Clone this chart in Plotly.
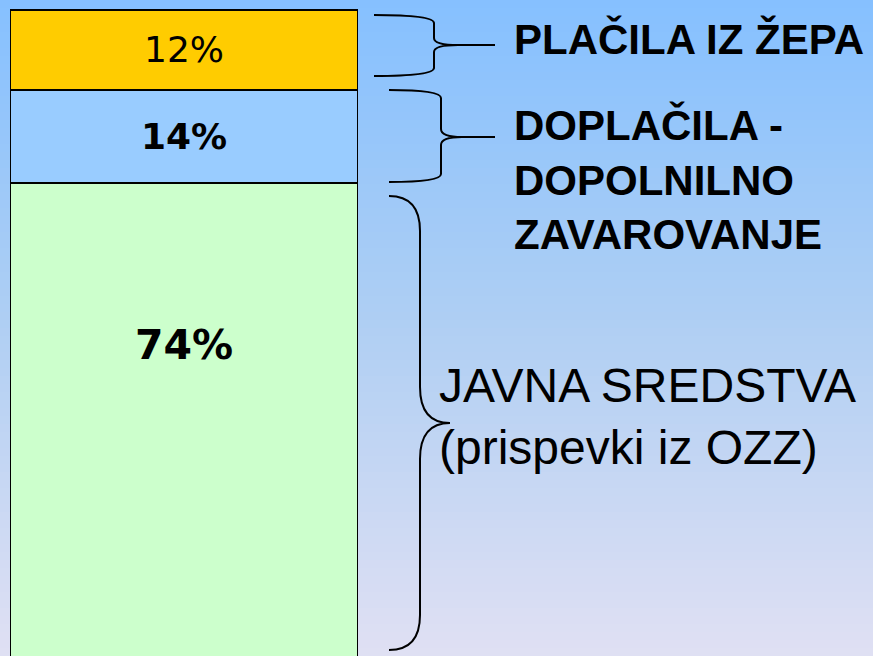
import plotly.graph_objects as go

# ---- data ----
categories = ["PLAČILA IZ ŽEPA", "DOPLAČILA - DOPOLNILNO ZAVAROVANJE", "JAVNA SREDSTVA (prispevki iz OZZ)"]
shares = [12, 14, 74]
share_labels = ["12%", "14%", "74%"]
side_labels = [
    "<b>PLAČILA IZ ŽEPA</b>",
    "<b>DOPLAČILA -<br>DOPOLNILNO<br>ZAVAROVANJE</b>",
    "JAVNA SREDSTVA<br>(prispevki iz OZZ)",
]
bar_colors = ["#FFCC00", "#99CCFF", "#CCFFCC"]

W, H = 873, 656
SCALE = 6.65          # pixels per percent
TOP = 10              # pixel of 0 %

fig = go.Figure()

label_fonts = [
    dict(family="DejaVu Sans", size=36, color="black"),
    dict(family="DejaVu Sans", size=36, color="black", weight="bold"),
    dict(family="DejaVu Sans", size=41, color="black", weight="bold"),
]

for i, (cat, v) in enumerate(zip(categories, shares)):
    inside = i < 2
    fig.add_trace(go.Bar(
        x=[0], y=[v], width=1, name=cat,
        marker=dict(color=bar_colors[i], line=dict(color="black", width=2.5)),
        text=[share_labels[i]] if inside else None,
        textposition="inside" if inside else "none",
        insidetextanchor="middle",
        textangle=0,
        textfont=label_fonts[i],
        hoverinfo="skip",
    ))

# label for the large segment, placed in its upper part
base_last = sum(shares[:2])
fig.add_annotation(x=0, y=base_last + shares[2] * 0.33, xref="x", yref="y",
                   text=share_labels[2], showarrow=False, font=label_fonts[2])

# ---- background gradient (top blue -> bottom lavender) ----
stops = [(0.0, (133, 192, 255)), (0.5, (176, 207, 243)), (1.0, (224, 224, 243))]
def grad(t):
    for (t0, c0), (t1, c1) in zip(stops[:-1], stops[1:]):
        if t <= t1:
            f = (t - t0) / (t1 - t0)
            return "rgb(%d,%d,%d)" % tuple(round(a + (b - a) * f) for a, b in zip(c0, c1))
    return "rgb(%d,%d,%d)" % stops[-1][1]

shapes = []
N = 82
for k in range(N):
    y0 = 1 - k / N
    y1 = 1 - (k + 1) / N
    shapes.append(dict(type="rect", xref="paper", yref="paper", x0=0, x1=1,
                       y0=y1 - 0.002, y1=y0, fillcolor=grad((k + 0.5) / N),
                       line=dict(width=0), layer="below"))

# ---- curly braces (pixel coordinates -> paper) ----
def X(px):
    return px / W
def Y(py):
    return 1 - py / H

def brace(x0, ytop, ybot, xs, ym, xt, r, r2, xtail=None):
    p = (f"M {X(x0)},{Y(ytop)} Q {X(xs)},{Y(ytop)} {X(xs)},{Y(ytop + r)} "
         f"L {X(xs)},{Y(ym - r2)} Q {X(xs)},{Y(ym)} {X(xt)},{Y(ym)} ")
    if xtail:
        p += f"L {X(xtail)},{Y(ym)} "
    p += (f"M {X(xt)},{Y(ym)} Q {X(xs)},{Y(ym)} {X(xs)},{Y(ym + r2)} "
          f"L {X(xs)},{Y(ybot - r)} Q {X(xs)},{Y(ybot)} {X(x0)},{Y(ybot)}")
    return dict(type="path", xref="paper", yref="paper", path=p,
                line=dict(color="black", width=2))

shapes.append(brace(374, 15, 76, 434, 45, 458, 8, 7, 495))
shapes.append(brace(389, 90, 182, 441, 137, 462, 8, 8, 495))
shapes.append(brace(389, 196, 650, 420, 423, 450, 35, 36))

# ---- side labels ----
fig.add_annotation(x=X(512), y=Y(39), xref="paper", yref="paper", xanchor="left",
                   yanchor="middle", align="left", showarrow=False, text=side_labels[0],
                   font=dict(family="Liberation Sans", size=42, color="black"))
fig.add_annotation(x=X(512), y=Y(179), xref="paper", yref="paper", xanchor="left",
                   yanchor="middle", align="left", showarrow=False, text=side_labels[1],
                   font=dict(family="Liberation Sans", size=42, color="black"))
fig.add_annotation(x=X(437), y=Y(417), xref="paper", yref="paper", xanchor="left",
                   yanchor="middle", align="left", showarrow=False, text=side_labels[2],
                   font=dict(family="Liberation Sans", size=48, color="black"))

fig.update_layout(
    width=W, height=H,
    margin=dict(l=0, r=0, t=0, b=0),
    barmode="stack",
    showlegend=False,
    paper_bgcolor="#B0CFF3",
    plot_bgcolor="rgba(0,0,0,0)",
    shapes=shapes,
    xaxis=dict(domain=[10 / W, 358 / W], range=[-0.5, 0.5], visible=False, fixedrange=True),
    yaxis=dict(range=[(H - TOP) / SCALE, -TOP / SCALE], visible=False, fixedrange=True),
)

fig.write_html("out.html", config={"displayModeBar": False},
               post_script="document.body.style.margin='0';document.body.style.overflow='hidden';")
